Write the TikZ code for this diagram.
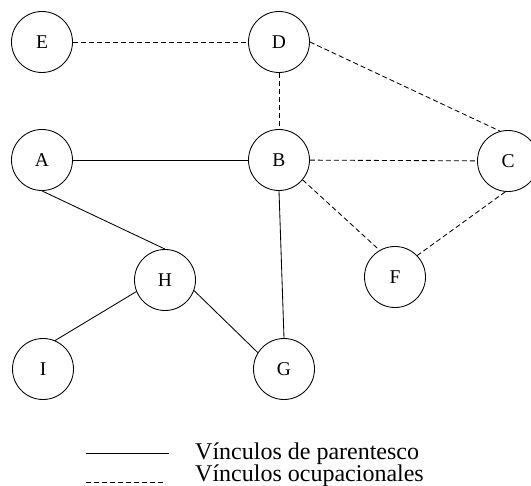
\documentclass[tikz,border=0pt]{standalone}
\usepackage{fontspec}
\setmainfont{Liberation Serif}
\usepackage{tikz}
\usetikzlibrary{positioning}
\tikzstyle{persona} = [circle, draw, line width=0.85pt, minimum size=61pt, inner sep=0pt, font=\fontsize{19.5}{20}\selectfont]
\tikzstyle{paren} = [line width=0.85pt]
\tikzstyle{ocup} = [line width=0.85pt, dash pattern=on 5pt off 3pt]
\tikzstyle{leyenda} = [anchor=base west, inner sep=0pt, font=\fontsize{24}{26}\selectfont]

\begin{document}
\begin{tikzpicture}[x=1pt, y=1pt, node distance=118pt]
        \useasboundingbox (0,0) rectangle (531,-486);
        \clip (0,0) rectangle (531,-486);
        \node[persona] (E) at (42,-42) {E};
        \node[persona, right of=E, xshift=119pt] (D) {D};
        \node[persona, below of=E] (A) {A};
        \node[persona, below of=D] (B) {B};
        \node[persona, right of=B, xshift=111pt, yshift=-1pt] (C) {C};
        \node[persona, below of=A, xshift=123pt, yshift=-2pt] (H) {H};
        \node[persona, below of=B, xshift=116pt, yshift=1pt] (F) {F};
        \node[persona, below of=H, xshift=-122pt, yshift=29pt] (I) {I};
        \node[persona, right of=I, xshift=123pt] (G) {G};
        \draw (E) edge[ocup] (D)
        (D) edge[ocup] (B)
        (D.east) edge[ocup] (C.105)
        (B) edge[ocup] (C)
        (B.-40) edge[ocup] (F.120)
        (C.265) edge[ocup] (F.44)
        (A) edge[paren] (B)
        (A.south) edge[paren] (H.north)
        (H.202) edge[paren] (I.67)
        (H.-20) edge[paren] (G.148)
        (B.south) edge[paren] (G.north);
        % leyenda
        \coordinate (p1) at (86,-453);
        \coordinate (p2) at (169,-453);
        \coordinate (o1) at (86,-482);
        \coordinate (o2) at (163,-482);
        \draw[paren] (p1) -- (p2);
        \draw[ocup] (o1) -- (o2);
        \node[leyenda] (tp) at (195,-460) {Vínculos de parentesco};
        \node[leyenda] (to) at (195,-482) {Vínculos ocupacionales};
      \end{tikzpicture}
\end{document}
